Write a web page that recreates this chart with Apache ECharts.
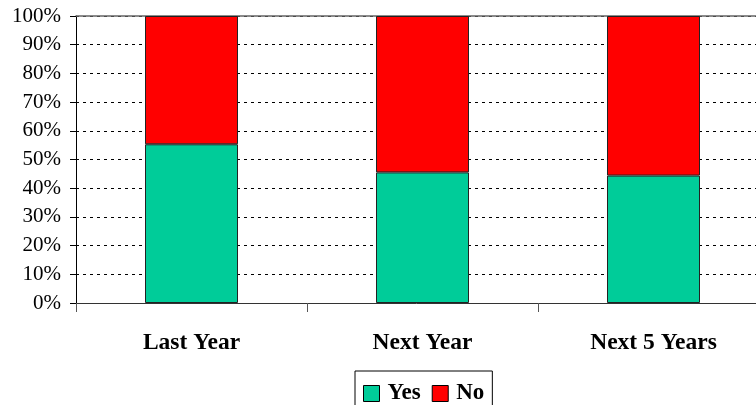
<!DOCTYPE html>
<html>
<head>
<meta charset="utf-8">
<script src="https://cdn.jsdelivr.net/npm/echarts@6/dist/echarts.min.js"></script>
<style>
  html, body { margin: 0; padding: 0; background: #fff; }
  #chart { width: 756px; height: 405px; }
</style>
</head>
<body>
<div id="chart"></div>
<script>
// Share of answers per period (percent of respondents)
const categories = ['Last Year', 'Next Year', 'Next 5 Years'];
const yesShare = [55.3, 45.5, 44.4];
const noShare = [44.7, 54.5, 55.6];
const seriesNames = ['Yes', 'No'];

const serif = '"Liberation Serif", "Times New Roman", serif';

const chart = echarts.init(document.getElementById('chart'), null, { renderer: 'canvas' });

chart.setOption({
  animation: false,
  backgroundColor: '#ffffff',
  // plot area runs past the right edge of the canvas
  grid: { left: 76, top: 16, right: -13, bottom: 102, containLabel: false, outerBoundsMode: 'none' },
  legend: {
    data: seriesNames,
    left: 355,
    top: 371,
    orient: 'horizontal',
    borderColor: '#000',
    borderWidth: 1,
    padding: [11, 8, 12, 8],
    itemGap: 11,
    itemWidth: 16,
    itemHeight: 16,
    icon: 'rect',
    itemStyle: { borderColor: '#000', borderWidth: 1 },
    textStyle: { fontFamily: serif, fontSize: 23, fontWeight: 'bold', color: '#000', padding: [0, 0, 0, 3] }
  },
  xAxis: [{
    type: 'category',
    data: categories,
    boundaryGap: true,
    axisLine: { lineStyle: { color: '#333', width: 1 } },
    axisTick: { show: true, length: 9, interval: 0, lineStyle: { color: '#555' } },
    axisLabel: { fontFamily: serif, fontSize: 23.5, fontWeight: 'bold', color: '#000', margin: 28, interval: 0 },
    splitLine: { show: false }
  }, {
    type: 'category',
    data: categories,
    position: 'top',
    axisLine: { lineStyle: { color: '#666', width: 1.5 } },
    axisTick: { show: false },
    axisLabel: { show: false }
  }],
  yAxis: {
    type: 'value',
    min: 0,
    max: 100,
    interval: 10,
    axisLine: { show: true, lineStyle: { color: '#000', width: 1 } },
    axisTick: { show: true, length: 6, lineStyle: { color: '#000' } },
    axisLabel: { fontFamily: serif, fontSize: 21, color: '#000', margin: 15, formatter: '{value}%' },
    splitLine: { show: true, lineStyle: { color: '#000', width: 1, type: [3, 4] } }
  },
  series: [
    {
      name: 'Yes',
      type: 'bar',
      stack: 'share',
      data: yesShare,
      barWidth: 93,
      itemStyle: { color: '#00CC99', borderColor: '#222', borderWidth: 1 }
    },
    {
      name: 'No',
      type: 'bar',
      stack: 'share',
      data: noShare,
      barWidth: 93,
      itemStyle: { color: '#FF0000', borderColor: '#222', borderWidth: 1 }
    }
  ]
});
</script>
</body>
</html>
